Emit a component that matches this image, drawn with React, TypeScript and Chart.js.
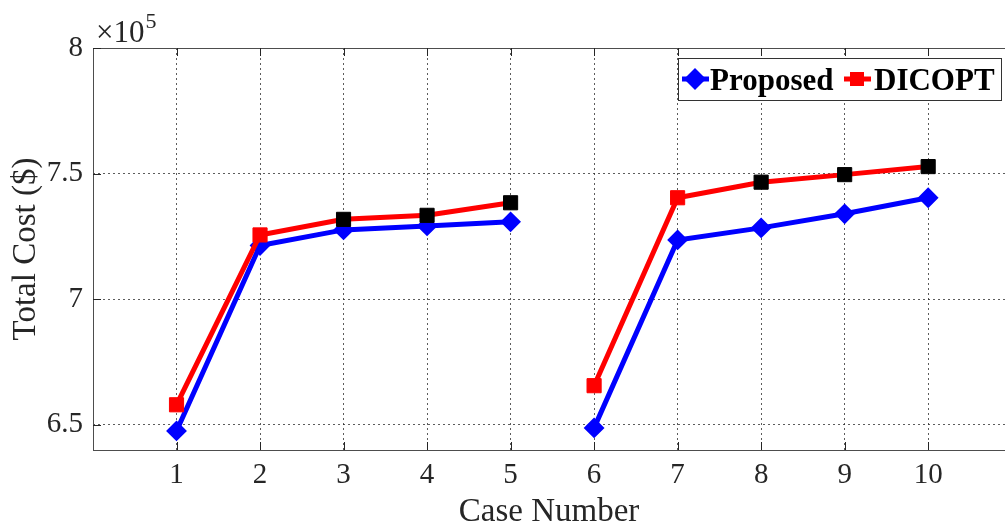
import React, { useEffect, useRef } from "react";
import { Chart, registerables } from "chart.js";

Chart.register(...registerables);

const caseNumbers = [1, 2, 3, 4, 5, 6, 7, 8, 9, 10];
const proposedCost = [6.476, 7.214, 7.276, 7.292, 7.308, 6.488, 7.236, 7.284, 7.34, 7.404];
const dicoptCost = [6.58, 7.256, 7.318, 7.334, 7.384, 6.656, 7.404, 7.466, 7.496, 7.528];
const groupBreakAfter = 5;
const xTickValues = [1, 2, 3, 4, 5, 6, 7, 8, 9, 10];
const yTickValues = [6.5, 7, 7.5, 8];
const yTickLabels = ["6.5", "7", "7.5", "8"];
const blackMarkerCases = [3, 4, 5, 8, 9, 10];
const seriesNames = ["Proposed", "DICOPT"];
const xTitle = "Case Number";
const yTitle = "Total Cost ($)";

const TXT = "#262626";
const SERIF = "'Liberation Serif', 'Times New Roman', serif";

function buildSeries(values: number[]) {
  const out: { x: number; y: number | null }[] = [];
  caseNumbers.forEach((c, i) => {
    out.push({ x: c, y: values[i] });
    if (c === groupBreakAfter) out.push({ x: c + 0.5, y: null });
  });
  return out;
}

function markerColors(base: string) {
  const arr: string[] = [];
  caseNumbers.forEach((c) => {
    arr.push(blackMarkerCases.includes(c) ? "#000000" : base);
    if (c === groupBreakAfter) arr.push(base);
  });
  return arr;
}

const decorPlugin = {
  id: "decor",
  afterDraw(chart: any) {
    const ctx = chart.ctx;
    const a = chart.chartArea;
    const xs = chart.scales.x;
    const ys = chart.scales.y;
    ctx.save();
    // axes box
    ctx.strokeStyle = "#4d4d4d";
    ctx.lineWidth = 1;
    ctx.setLineDash([]);
    ctx.beginPath();
    ctx.moveTo(a.left + 0.5, a.top);
    ctx.lineTo(a.left + 0.5, a.bottom);
    ctx.moveTo(a.left, a.bottom + 0.5);
    ctx.lineTo(a.right, a.bottom + 0.5);
    ctx.moveTo(a.left, a.top + 0.5);
    ctx.lineTo(a.right, a.top + 0.5);
    ctx.stroke();
    // inward ticks
    ctx.strokeStyle = "#262626";
    ctx.beginPath();
    xTickValues.forEach((v) => {
      const px = Math.round(xs.getPixelForValue(v)) + 0.5;
      ctx.moveTo(px, a.bottom);
      ctx.lineTo(px, a.bottom - 8);
      ctx.moveTo(px, a.top);
      ctx.lineTo(px, a.top + 8);
    });
    yTickValues.forEach((v) => {
      const py = Math.round(ys.getPixelForValue(v)) + 0.5;
      ctx.moveTo(a.left, py);
      ctx.lineTo(a.left + 8, py);
    });
    ctx.stroke();

    // exponent label
    ctx.fillStyle = TXT;
    ctx.textBaseline = "alphabetic";
    ctx.textAlign = "left";
    ctx.font = `31px ${SERIF}`;
    ctx.fillText("\u00d710", a.left + 3, 42);
    const w = ctx.measureText("\u00d710").width;
    ctx.font = `22px ${SERIF}`;
    ctx.fillText("5", a.left + 3 + w + 1, 28);

    // legend
    const lx = 678, ly = 58, lw = 323, lh = 42;
    ctx.fillStyle = "#ffffff";
    ctx.fillRect(lx, ly, lw, lh);
    ctx.strokeStyle = "#333333";
    ctx.lineWidth = 1;
    ctx.strokeRect(lx + 0.5, ly + 0.5, lw, lh);
    const cy = 79;
    // Proposed
    ctx.strokeStyle = "#0000ff";
    ctx.lineWidth = 5;
    ctx.beginPath();
    ctx.moveTo(682, cy);
    ctx.lineTo(709, cy);
    ctx.stroke();
    ctx.fillStyle = "#0000ff";
    ctx.beginPath();
    ctx.moveTo(695, cy - 11);
    ctx.lineTo(706, cy);
    ctx.lineTo(695, cy + 11);
    ctx.lineTo(684, cy);
    ctx.closePath();
    ctx.fill();
    // DICOPT
    ctx.strokeStyle = "#ff0000";
    ctx.beginPath();
    ctx.moveTo(844, cy);
    ctx.lineTo(871, cy);
    ctx.stroke();
    ctx.fillStyle = "#ff0000";
    ctx.fillRect(850, cy - 7, 14, 14);
    ctx.fillStyle = "#000000";
    ctx.font = `bold 31px ${SERIF}`;
    ctx.fillText(seriesNames[0], 710, 90);
    ctx.fillText(seriesNames[1], 874, 90);
    ctx.restore();
  },
};

export default function App() {
  const ref = useRef<HTMLCanvasElement>(null);
  useEffect(() => {
    document.body.style.margin = "0";
    const canvas = ref.current!;
    const chart = new Chart(canvas, {
      type: "line",
      data: {
        datasets: [
          {
            label: seriesNames[1],
            data: buildSeries(dicoptCost),
            borderColor: "#ff0000",
            borderWidth: 5,
            pointStyle: "rect",
            pointRadius: 10,
            pointBorderWidth: 1,
            pointBackgroundColor: markerColors("#ff0000"),
            pointBorderColor: markerColors("#ff0000"),
            spanGaps: false,
            tension: 0,
            order: 0,
          },
          {
            label: seriesNames[0],
            data: buildSeries(proposedCost),
            borderColor: "#0000ff",
            borderWidth: 5,
            pointStyle: "rectRot",
            pointRadius: 9,
            pointBorderWidth: 2,
            pointBackgroundColor: "#0000ff",
            pointBorderColor: "#0000ff",
            spanGaps: false,
            tension: 0,
            order: 1,
          },
        ],
      } as any,
      options: {
        responsive: false,
        animation: false,
        devicePixelRatio: 1,
        layout: { autoPadding: false, padding: { top: 48, right: 0, left: 0, bottom: 0 } },
        plugins: { legend: { display: false }, tooltip: { enabled: false } },
        scales: {
          x: {
            type: "linear",
            min: 0,
            max: 10.92,
            afterBuildTicks: (s: any) => {
              s.ticks = xTickValues.map((v) => ({ value: v }));
            },
            afterFit: (s: any) => {
              s.height = 79;
              s.paddingRight = 0;
              s.paddingLeft = 0;
            },
            grid: {
              color: "rgba(38,38,38,0.75)",
              lineWidth: 1,
              drawTicks: false,
            },
            border: { display: false, dash: [2, 3] },
            ticks: {
              autoSkip: false,
              maxRotation: 0,
              padding: 8,
              color: TXT,
              font: { family: SERIF, size: 29 },
              callback: (v: any) => String(v),
            },
            title: {
              display: true,
              text: xTitle,
              color: TXT,
              font: { family: SERIF, size: 33, lineHeight: 1 },
              padding: { top: 0, bottom: 0 },
            },
          },
          y: {
            type: "linear",
            min: 6.4,
            max: 8.0,
            afterBuildTicks: (s: any) => {
              s.ticks = yTickValues.map((v) => ({ value: v }));
            },
            afterFit: (s: any) => {
              s.width = 93;
              s.paddingTop = 0;
              s.paddingBottom = 0;
            },
            grid: {
              color: "rgba(38,38,38,0.75)",
              lineWidth: 1,
              drawTicks: false,
            },
            border: { display: false, dash: [2, 3] },
            ticks: {
              padding: 10,
              color: TXT,
              font: { family: SERIF, size: 29 },
              callback: (v: any) => {
                const i = yTickValues.indexOf(Number(v));
                return i >= 0 ? yTickLabels[i] : "";
              },
            },
            title: {
              display: true,
              text: yTitle,
              color: TXT,
              font: { family: SERIF, size: 33, lineHeight: 1 },
              padding: { top: 10, bottom: 0 },
            },
          },
        },
      } as any,
      plugins: [decorPlugin],
    });
    return () => chart.destroy();
  }, []);
  return (
    <div style={{ position: "absolute", left: 0, top: 0, width: 1005, height: 529 }}>
      <canvas ref={ref} width={1005} height={529} style={{ width: 1005, height: 529, display: "block" }} />
    </div>
  );
}
